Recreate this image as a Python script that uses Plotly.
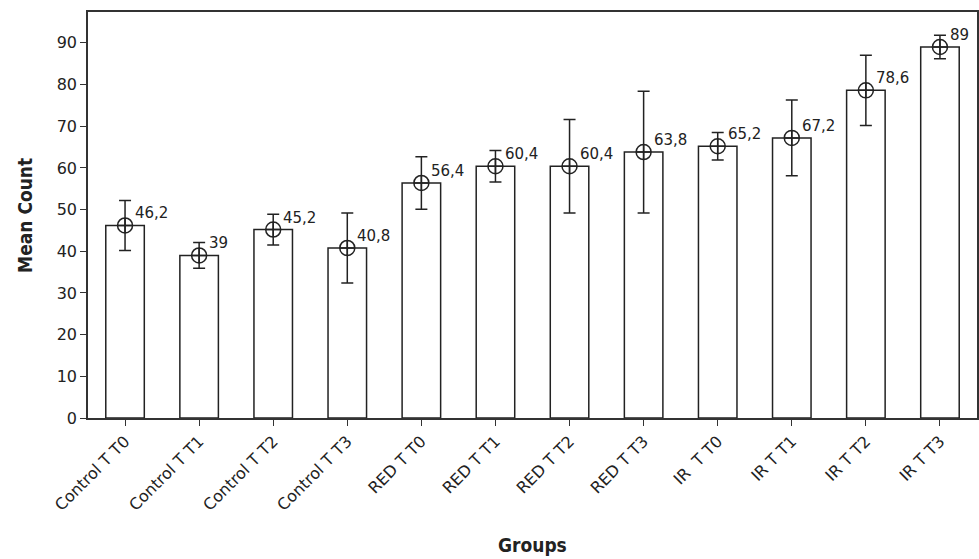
import plotly.graph_objects as go

groups = ["Control T T0", "Control T T1", "Control T T2", "Control T T3",
          "RED T T0", "RED T T1", "RED T T2", "RED T T3",
          "IR\u00a0 T T0", "IR T T1", "IR T T2", "IR T T3"]
means = [46.2, 39, 45.2, 40.8, 56.4, 60.4, 60.4, 63.8, 65.2, 67.2, 78.6, 89]
errors = [6.0, 3.1, 3.7, 8.4, 6.3, 3.8, 11.2, 14.6, 3.3, 9.1, 8.4, 2.8]
labels = ["46,2", "39", "45,2", "40,8", "56,4", "60,4", "60,4", "63,8",
          "65,2", "67,2", "78,6", "89"]
yticks = [0, 10, 20, 30, 40, 50, 60, 70, 80, 90]

fig = go.Figure()
fig.add_trace(go.Bar(
    x=groups, y=means, width=0.52,
    marker=dict(color="white", line=dict(color="#222", width=1.5)),
    showlegend=False, hoverinfo="skip",
))
fig.add_trace(go.Scatter(
    x=groups, y=means, mode="markers",
    marker=dict(symbol="circle-cross-open", size=15, color="#222",
                line=dict(width=1.5, color="#222")),
    error_y=dict(type="data", array=errors, visible=True, color="#222",
                 thickness=1.5, width=6),
    showlegend=False,
))
for g, m, t in zip(groups, means, labels):
    fig.add_annotation(x=g, y=m, text=t, showarrow=False,
                       xanchor="left", yanchor="bottom", xshift=8, yshift=1,
                       font=dict(family="DejaVu Sans", size=15, color="#222"))

fig.add_annotation(text="<b>Mean Count</b>", xref="paper", yref="paper",
                   x=-0.071, y=0.5, xanchor="center", yanchor="middle",
                   textangle=-90, showarrow=False,
                   font=dict(family="DejaVu Sans Condensed", size=19, color="#222"))
fig.add_annotation(text="<b>Groups</b>", xref="paper", yref="paper",
                   x=0.5, y=-0.313, xanchor="center", yanchor="middle",
                   showarrow=False,
                   font=dict(family="DejaVu Sans Condensed", size=19, color="#222"))

fig.update_layout(
    width=979, height=559,
    margin=dict(l=88, r=2, t=12, b=141),
    paper_bgcolor="white", plot_bgcolor="white",
    font=dict(family="DejaVu Sans", color="#222"),
)
fig.update_xaxes(
    range=[-0.5, 11.5], showline=True, linecolor="#333", linewidth=1.5,
    mirror=True, ticks="outside", ticklen=6, tickcolor="#333", tickwidth=1.2,
    tickangle=-45, tickfont=dict(family="DejaVu Sans", size=16, color="#222"),
    showgrid=False, automargin=False,
)
fig.update_yaxes(
    range=[0, 97.4], showline=True, linecolor="#333", linewidth=1.5,
    mirror=True, ticks="outside", ticklen=6, tickcolor="#333", tickwidth=1.2,
    tickvals=yticks,
    tickfont=dict(family="DejaVu Sans", size=16, color="#222"),
    showgrid=False, zeroline=False, automargin=False,
)

fig.write_html("out.html", config={"displayModeBar": False},
               post_script="document.body.style.margin='0';document.body.style.overflow='hidden';")
